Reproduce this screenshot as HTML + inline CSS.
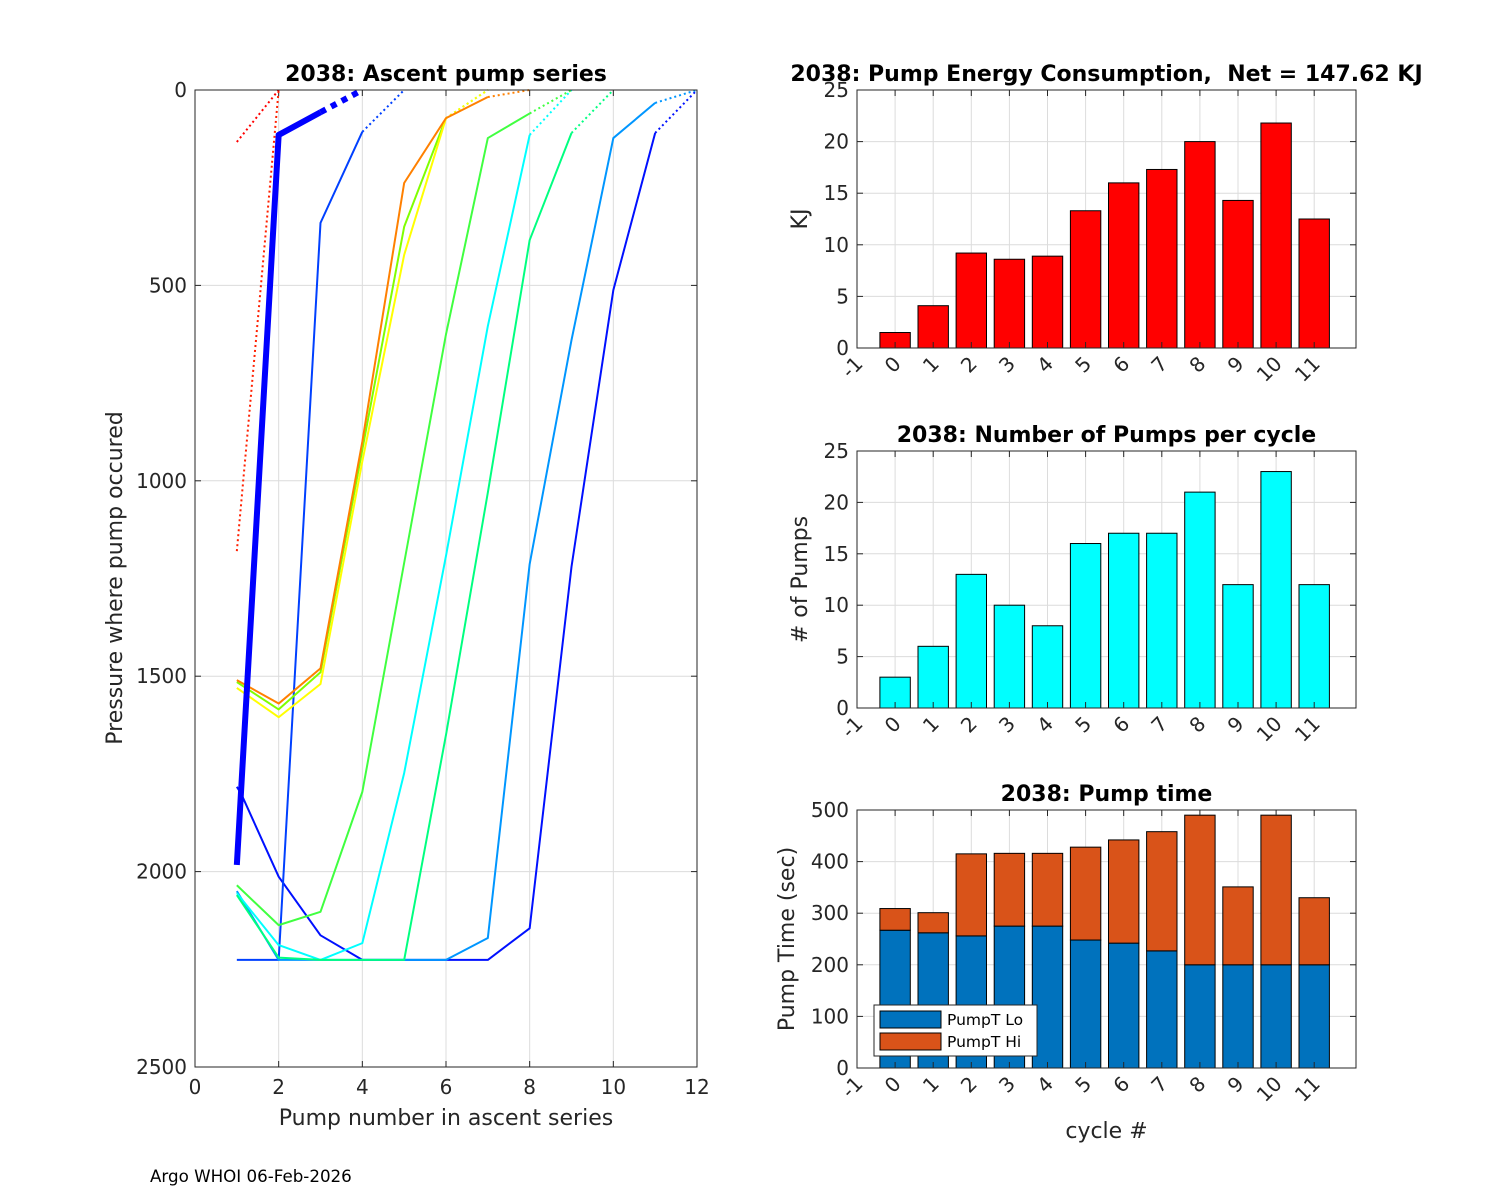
<!DOCTYPE html>
<html><head><meta charset="utf-8"><style>
html,body{margin:0;padding:0;background:#fff;}
svg{display:block;font-family:"DejaVu Sans","Liberation Sans",sans-serif;}
</style></head><body>
<svg id="fig" width="1500" height="1200" viewBox="0 0 1500 1200" xmlns="http://www.w3.org/2000/svg">
<rect width="1500" height="1200" fill="#fff"/>
<text x="150" y="1182" font-size="16.7" fill="#000">Argo WHOI 06-Feb-2026</text>
</svg>
<script>
// ---- Left chart data ----
const serA_x=[1,2,3,4]; const serA_p=[1983,115,57,0];
const serB_x=[1,2]; const serB_p=[1180,0];
const serB2_x=[1,2]; const serB2_p=[133,0];
const serC_x=[1,1.1,2,3,4,5,6,7,8,9,10,11,12]; const serC_p=[1783,1800,2013,2163,2226,2226,2226,2226,2145,1220,512,110,0];
const serD_x=[1,2,3,4,5]; const serD_p=[2226,2226,340,107,0];
const serE_x=[1,2,3,4,5,6,7,8,9,10,11,12]; const serE_p=[2050,2226,2226,2226,2226,2226,2170,1213,640,123,33,0];
const serF_x=[1,2,3,4,5,6,7,8,9]; const serF_p=[2055,2188,2226,2183,1748,1192,604,115,0];
const serG_x=[1,2,3,4,5,6,7,8,9,10]; const serG_p=[2060,2220,2226,2226,2226,1650,1030,384,110,0];
const serH_x=[1,2,3,4,5,6,7,8,9]; const serH_p=[2035,2137,2103,1796,1210,625,123,60,0];
const serI_x=[1,2,3,4,5,6,7]; const serI_p=[1515,1585,1490,920,350,72,0];
const serJ_x=[1,2,3,4,5,6,7]; const serJ_p=[1530,1605,1520,950,422,72,0];
const serK_x=[1,2,3,4,5,6,7,8]; const serK_p=[1510,1570,1480,900,238,72,18,0];
const leftXTicks=[0,2,4,6,8,10,12];
const leftYTicks=[0,500,1000,1500,2000,2500];
// ---- Bar chart data ----
const cycles=[0,1,2,3,4,5,6,7,8,9,10,11];
const cycleTicks=[-1,0,1,2,3,4,5,6,7,8,9,10,11];
const energyKJ=[1.5,4.1,9.2,8.6,8.9,13.3,16.0,17.3,20.0,14.3,21.8,12.5];
const numPumps=[3,6,13,10,8,16,17,17,21,12,23,12];
const pumpLo=[267,262,256,275,275,248,242,227,200,200,200,200];
const pumpHi=[42,39,159,141,141,180,200,231,290,151,290,130];
const energyTicks=[0,5,10,15,20,25];
const pumpsTicks=[0,5,10,15,20,25];
const timeTicks=[0,100,200,300,400,500];

const svg=document.getElementById('fig');
const NS='http://www.w3.org/2000/svg';
const TF=20, TT=22;
function mk(tag,attrs,parent){const e=document.createElementNS(NS,tag);for(const k in attrs)e.setAttribute(k,attrs[k]);(parent||svg).appendChild(e);return e;}
function txt(s,attrs,parent){const e=mk('text',attrs,parent);e.textContent=s;return e;}

// ---- Left axes ----
const L={x0:195,x1:697,y0:90,y1:1067,xmin:0,xmax:12,ymin:0,ymax:2500};
const lx=v=>L.x0+(v-L.xmin)/(L.xmax-L.xmin)*(L.x1-L.x0);
const ly=v=>L.y0+(v-L.ymin)/(L.ymax-L.ymin)*(L.y1-L.y0);
const gL=mk('g',{});


leftXTicks.forEach(t=>{
  const gl=mk('line',{x1:lx(t),x2:lx(t),y1:L.y0,y2:L.y1,stroke:'#dcdcdc','stroke-width':1},gL);
  
  
  mk('line',{x1:lx(t),x2:lx(t),y1:L.y1,y2:L.y1-6,stroke:'#262626'},gL);
  mk('line',{x1:lx(t),x2:lx(t),y1:L.y0,y2:L.y0+6,stroke:'#262626'},gL);
  const tl=txt(String(t),{x:lx(t),y:L.y1+27,'font-size':TF,'text-anchor':'middle',fill:'#262626'},gL);
  
  
});
leftYTicks.forEach(t=>{
  const gl=mk('line',{x1:L.x0,x2:L.x1,y1:ly(t),y2:ly(t),stroke:'#dcdcdc','stroke-width':1},gL);
  
  
  mk('line',{x1:L.x0,x2:L.x0+6,y1:ly(t),y2:ly(t),stroke:'#262626'},gL);
  mk('line',{x1:L.x1,x2:L.x1-6,y1:ly(t),y2:ly(t),stroke:'#262626'},gL);
  const tl=txt(String(t),{x:L.x0-8,y:ly(t)+7,'font-size':TF,'text-anchor':'end',fill:'#262626'},gL);
  
  
});
const seriesList=[
 [serC_x,serC_p,'#0010ff',2,false],
 [serD_x,serD_p,'#0040ff',2,false],
 [serE_x,serE_p,'#0096ff',2,false],
 [serF_x,serF_p,'#00ffff',2,false],
 [serG_x,serG_p,'#00ff80',2,false],
 [serH_x,serH_p,'#40ff40',2,false],
 [serI_x,serI_p,'#80ff00',2,false],
 [serJ_x,serJ_p,'#ffff00',2,false],
 [serK_x,serK_p,'#ff8000',2,false],
 [serB_x,serB_p,'#ff2000',2,true],
 [serB2_x,serB2_p,'#ff0000',2,true],
 [serA_x,serA_p,'#0000ff',6,false]
];
seriesList.forEach(([xs,ps,col,w,allDot])=>{
  const n=xs.length;
  const solidEnd=allDot?0:n-1;
  if(solidEnd>=1){
    const pts=[];for(let i=0;i<solidEnd;i++)pts.push(lx(xs[i])+','+ly(ps[i]));
    const pl=mk('polyline',{points:pts.join(' '),fill:'none',stroke:col,'stroke-width':w,'stroke-linejoin':'round'},gL);
    
    
  }
  const a=allDot?0:n-2;
  const pts2=[];for(let i=a;i<n;i++)pts2.push(lx(xs[i])+','+ly(ps[i]));
  const dl=mk('polyline',{points:pts2.join(' '),fill:'none',stroke:col,'stroke-width':w,'stroke-dasharray':w>3?'6,6':'2,3'},gL);
  
  
});
mk('rect',{x:L.x0,y:L.y0,width:L.x1-L.x0,height:L.y1-L.y0,fill:'none',stroke:'#262626','stroke-width':1},gL);
let t1=txt('2038: Ascent pump series',{x:446,y:81,'font-size':TT,'font-weight':'bold','text-anchor':'middle',fill:'#000'});


let t2=txt('Pump number in ascent series',{x:446,y:1125,'font-size':TT,'text-anchor':'middle',fill:'#262626'});


let t3=txt('Pressure where pump occured',{x:0,y:0,'font-size':TT,'text-anchor':'middle',fill:'#262626',transform:'translate(122,578) rotate(-90)'});



// ---- Bar charts ----
function barChart(name,y0,y1,ymax,ticks,title,ylabel,ylOff,stacks,colors,showXLabel){
  const A={x0:857,x1:1356,y0:y0,y1:y1};
  const bx=v=>A.x0+(v+1)*38.1;
  const by=v=>A.y1-v/ymax*(A.y1-A.y0);
  const g=mk('g',{});
  
  
  ticks.forEach(t=>{
    if(t>0&&t<ymax){const gl=mk('line',{x1:A.x0,x2:A.x1,y1:by(t),y2:by(t),stroke:'#dcdcdc'},g);
    
    }
    mk('line',{x1:A.x0,x2:A.x0+6,y1:by(t),y2:by(t),stroke:'#262626'},g);
    mk('line',{x1:A.x1,x2:A.x1-6,y1:by(t),y2:by(t),stroke:'#262626'},g);
    const tl=txt(String(t),{x:A.x0-8,y:by(t)+7,'font-size':TF,'text-anchor':'end',fill:'#262626'},g);
    
    
  });
  cycleTicks.forEach(t=>{
    const gl=mk('line',{x1:bx(t),x2:bx(t),y1:A.y0,y2:A.y1,stroke:'#dcdcdc'},g);
    
    
  });
  cycles.forEach((c,i)=>{
    let base=0;
    stacks.forEach((arr,k)=>{
      const v=arr[i];
      const r=mk('rect',{x:bx(c)-15.2,y:by(base+v),width:30.4,height:by(base)-by(base+v),fill:colors[k],stroke:'#000','stroke-width':1},g);
      
      
      base+=v;
    });
  });
  cycleTicks.forEach(t=>{
    mk('line',{x1:bx(t),x2:bx(t),y1:A.y1,y2:A.y1-6,stroke:'#262626'},g);
    mk('line',{x1:bx(t),x2:bx(t),y1:A.y0,y2:A.y0+6,stroke:'#262626'},g);
    const tl=txt(String(t),{x:0,y:0,'font-size':TF,'text-anchor':'end',fill:'#262626',transform:'translate('+(bx(t)+7)+','+(A.y1+17)+') rotate(-45)'},g);
    
    
  });
  mk('rect',{x:A.x0,y:A.y0,width:A.x1-A.x0,height:A.y1-A.y0,fill:'none',stroke:'#262626'},g);
  const tt=txt(title,{x:(A.x0+A.x1)/2,y:A.y0-9,'font-size':TT,'font-weight':'bold','text-anchor':'middle',fill:'#000','xml:space':'preserve'},g);
  
  
  const yl=txt(ylabel,{x:0,y:0,'font-size':TT,'text-anchor':'middle',fill:'#262626',transform:'translate('+(A.x0-ylOff)+','+((A.y0+A.y1)/2)+') rotate(-90)'},g);
  
  
  if(showXLabel){
    const xl=txt('cycle #',{x:(A.x0+A.x1)/2,y:A.y1+70,'font-size':TT,'text-anchor':'middle',fill:'#262626'},g);
    
    
  }
  return g;
}
barChart('energy-chart',90,348,25,energyTicks,'2038: Pump Energy Consumption,\u00a0 Net = 147.62 KJ','KJ',50,[energyKJ],['#ff0000'],false);
barChart('pumps-chart',451,708,25,pumpsTicks,'2038: Number of Pumps per cycle','# of Pumps',50,[numPumps],['#00ffff'],false);
const gT=barChart('pump-time-chart',810,1068,500,timeTicks,'2038: Pump time','Pump Time (sec)',63,[pumpLo,pumpHi],['#0072bd','#d95319'],true);
// legend
const lg=mk('g',{},gT);


mk('rect',{x:874,y:1005,width:163,height:51,fill:'#fff',stroke:'#262626'},lg);
const e1=mk('rect',{x:880,y:1011,width:61,height:17,fill:'#0072bd',stroke:'#000'},lg);


const e2=mk('rect',{x:880,y:1033,width:61,height:17,fill:'#d95319',stroke:'#000'},lg);


const lt1=txt('PumpT Lo',{x:947,y:1025,'font-size':15.5,fill:'#000'},lg);


const lt2=txt('PumpT Hi',{x:947,y:1047,'font-size':15.5,fill:'#000'},lg);


</script>
</body></html>
